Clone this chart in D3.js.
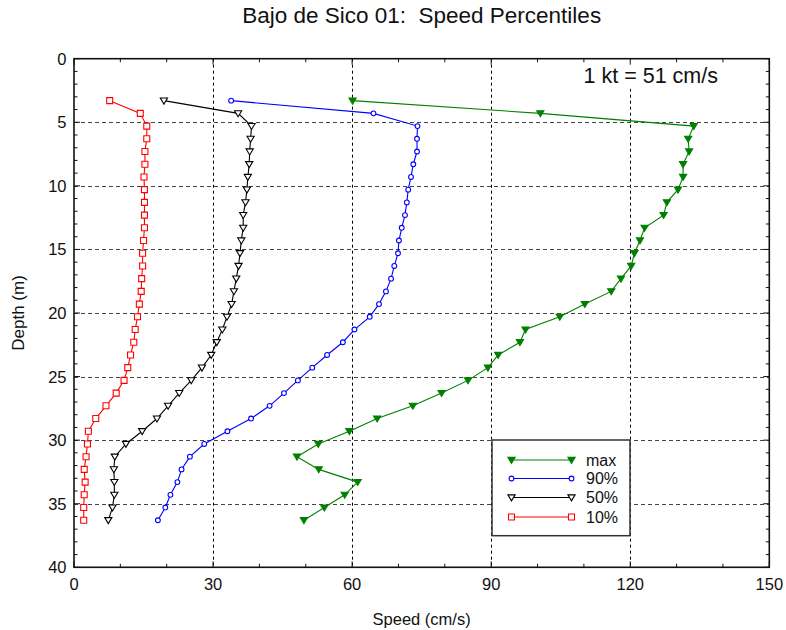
<!DOCTYPE html>
<html>
<head>
<meta charset="utf-8">
<script src="https://cdn.jsdelivr.net/npm/d3@7"></script>
<style>
  body { margin: 0; background: #fff; }
  svg { display: block; font-family: "Liberation Sans", Arial, Helvetica, sans-serif; }
  text { white-space: pre; }
</style>
</head>
<body>
<svg id="chart" width="786" height="630"></svg>
<script>
// ---------- data ----------
const depths = [3.3, 4.3, 5.3, 6.3, 7.3, 8.3, 9.3, 10.3, 11.3, 12.3, 13.3, 14.3, 15.3, 16.3, 17.3, 18.3, 19.3,
                20.3, 21.3, 22.3, 23.3, 24.3, 25.3, 26.3, 27.3, 28.3, 29.3, 30.3, 31.3, 32.3, 33.3, 34.3, 35.3, 36.3];
const maxSpeed = [60.1, 100.6, 133.7, 132.5, 132.7, 131.4, 131.4, 130.3, 127.9, 127.2, 123.1, 122.1, 120.9, 120.2, 118.0, 115.9, 110.2,
                  104.8, 97.4, 96.2, 91.5, 89.3, 85.0, 79.3, 73.1, 65.4, 59.4, 52.7, 48.1, 52.8, 61.2, 58.4, 54.0, 49.6];
const p90 = [33.9, 64.6, 74.1, 74.0, 74.0, 73.2, 72.7, 72.1, 71.8, 71.4, 70.7, 70.1, 69.9, 69.1, 68.4, 67.3, 65.8,
             63.8, 60.5, 58.0, 54.6, 51.4, 48.3, 45.3, 42.2, 38.2, 33.1, 28.1, 25.0, 23.2, 22.3, 20.8, 19.7, 18.1];
const p50 = [19.4, 35.4, 38.3, 38.1, 37.9, 37.8, 37.5, 37.3, 37.0, 36.5, 36.5, 36.1, 35.8, 35.5, 35.0, 34.5, 34.0,
             33.0, 32.0, 30.8, 29.6, 27.6, 25.3, 22.7, 20.3, 17.9, 14.7, 11.2, 8.8, 8.6, 8.7, 8.7, 8.3, 7.4];
const p10 = [7.7, 14.3, 15.7, 15.7, 15.3, 15.3, 15.1, 15.2, 15.2, 15.2, 15.2, 15.0, 14.8, 14.8, 14.6, 14.5, 14.1,
             13.7, 13.2, 12.9, 12.2, 11.6, 10.8, 9.1, 6.9, 4.7, 3.1, 2.9, 2.6, 2.2, 2.4, 2.2, 2.1, 2.1];
const seriesNames = ["max", "90%", "50%", "10%"];
const xTicks = [0, 30, 60, 90, 120, 150];
const yTicks = [0, 5, 10, 15, 20, 25, 30, 35, 40];
const titleText = "Bajo de Sico 01:  Speed Percentiles";
const noteText = "1 kt = 51 cm/s";
const xLabel = "Speed (cm/s)";
const yLabel = "Depth (m)";

// ---------- layout ----------
const svg = d3.select("#chart");
const L = 74, T = 58.7, R = 769.3, B = 567.3;
const x = d3.scaleLinear().domain([0, 150]).range([L, R]);
const y = d3.scaleLinear().domain([0, 40]).range([T, B]);

const styles = {
  "max": { color: "#008000", marker: "tri", fill: "#008000" },
  "90%": { color: "#0000ff", marker: "circle", fill: "#fff" },
  "50%": { color: "#000000", marker: "tri", fill: "#fff" },
  "10%": { color: "#ff0000", marker: "square", fill: "#fff" }
};
const valuesBy = { "max": maxSpeed, "90%": p90, "50%": p50, "10%": p10 };

// ---------- grid ----------
const grid = svg.append("g");
grid.selectAll("line.v").data(xTicks.filter(d => d > 0 && d < 150)).join("line")
  .attr("x1", d => Math.round(x(d)) + 0.5).attr("x2", d => Math.round(x(d)) + 0.5).attr("y1", T).attr("y2", B)
  .attr("stroke", "#000").attr("stroke-width", 1).attr("stroke-dasharray", "3,3");
grid.selectAll("line.h").data(yTicks.filter(d => d > 0 && d < 40)).join("line")
  .attr("x1", L).attr("x2", R).attr("y1", d => Math.round(y(d)) + 0.5).attr("y2", d => Math.round(y(d)) + 0.5)
  .attr("stroke", "#444").attr("stroke-width", 1).attr("stroke-dasharray", "4,3");

// annotation background (hides grid behind text)
svg.append("rect").attr("x", 570).attr("y", T + 1).attr("width", 158).attr("height", 29).attr("fill", "#fff");
svg.append("text").attr("x", 718).attr("y", 82.5).attr("text-anchor", "end")
  .attr("font-size", 21.5).attr("fill", "#111").text(noteText);

// ---------- series ----------
function markerPath(type) {
  if (type === "tri") return "M-3.6,-2.6L3.6,-2.6L0,3.4Z";
  if (type === "square") return "M-3,-3L3,-3L3,3L-3,3Z";
  return d3.symbol().type(d3.symbolCircle).size(18)();
}
const plot = svg.append("g");
const line = d3.line().x(d => x(d[0])).y(d => y(d[1]));
seriesNames.slice().reverse().forEach(name => {
  const st = styles[name];
  const pts = valuesBy[name].map((v, i) => [v, depths[i]]);
  plot.append("path").datum(pts).attr("d", line)
    .attr("fill", "none").attr("stroke", st.color).attr("stroke-width", 1.1);
  plot.selectAll(null).data(pts).join("path")
    .attr("transform", d => `translate(${x(d[0])},${y(d[1])})`)
    .attr("d", markerPath(st.marker))
    .attr("fill", st.fill).attr("stroke", st.color).attr("stroke-width", 1.1);
});

// ---------- axes frame & ticks ----------
const axes = svg.append("g").attr("stroke", "#111");
const xMinor = d3.range(0, 151, 10);
const yMinor = d3.range(0, 41, 1);
// bottom & top
axes.selectAll(null).data(xMinor).join("line")
  .attr("x1", d => x(d)).attr("x2", d => x(d))
  .attr("y1", B).attr("y2", d => B - (d % 30 === 0 ? 6 : 3.5)).attr("stroke-width", 1);
axes.selectAll(null).data(xMinor).join("line")
  .attr("x1", d => x(d)).attr("x2", d => x(d))
  .attr("y1", T).attr("y2", d => T + (d % 30 === 0 ? 6 : 3.5)).attr("stroke-width", 1);
// left & right
axes.selectAll(null).data(yMinor).join("line")
  .attr("y1", d => y(d)).attr("y2", d => y(d))
  .attr("x1", L).attr("x2", d => L + (d % 5 === 0 ? 6 : 3.5)).attr("stroke-width", 1);
axes.selectAll(null).data(yMinor).join("line")
  .attr("y1", d => y(d)).attr("y2", d => y(d))
  .attr("x1", R).attr("x2", d => R - (d % 5 === 0 ? 6 : 3.5)).attr("stroke-width", 1);
svg.append("rect").attr("x", L).attr("y", T).attr("width", R - L).attr("height", B - T)
  .attr("fill", "none").attr("stroke", "#111").attr("stroke-width", 1.6);

// tick labels
svg.append("g").selectAll("text").data(xTicks).join("text")
  .attr("x", d => x(d)).attr("y", 590).attr("text-anchor", "middle")
  .attr("font-size", 16.5).attr("fill", "#111").text(d => d);
svg.append("g").selectAll("text").data(yTicks).join("text")
  .attr("x", 66.5).attr("y", d => y(d) + 6).attr("text-anchor", "end")
  .attr("font-size", 16.5).attr("fill", "#111").text(d => d);

// titles
svg.append("text").attr("x", (L + R) / 2).attr("y", 23).attr("text-anchor", "middle")
  .attr("font-size", 22.5).attr("fill", "#111").text(titleText);
svg.append("text").attr("x", (L + R) / 2).attr("y", 625).attr("text-anchor", "middle")
  .attr("font-size", 16.5).attr("fill", "#111").text(xLabel);
svg.append("text").attr("transform", `translate(24,${(T + B) / 2}) rotate(-90)`)
  .attr("text-anchor", "middle").attr("font-size", 17).attr("fill", "#111").text(yLabel);

// ---------- legend ----------
const lg = svg.append("g");
lg.append("rect").attr("x", 492).attr("y", 440).attr("width", 138).attr("height", 95.7)
  .attr("fill", "#fff").attr("stroke", "#333").attr("stroke-width", 1.5);
const rowY = [460, 478.5, 497.5, 517];
seriesNames.forEach((name, i) => {
  const st = styles[name];
  const g = lg.append("g");
  g.append("line").attr("x1", 511.5).attr("x2", 571.5).attr("y1", rowY[i]).attr("y2", rowY[i])
    .attr("stroke", st.color).attr("stroke-width", 1.2);
  [511.5, 571.5].forEach(px => {
    g.append("path").attr("transform", `translate(${px},${rowY[i]})`)
      .attr("d", markerPath(st.marker))
      .attr("fill", st.fill).attr("stroke", st.color).attr("stroke-width", 1.1);
  });
  g.append("text").attr("x", 586).attr("y", rowY[i] + 5.5).attr("font-size", 16)
    .attr("fill", "#111").text(name);
});
</script>
</body>
</html>
